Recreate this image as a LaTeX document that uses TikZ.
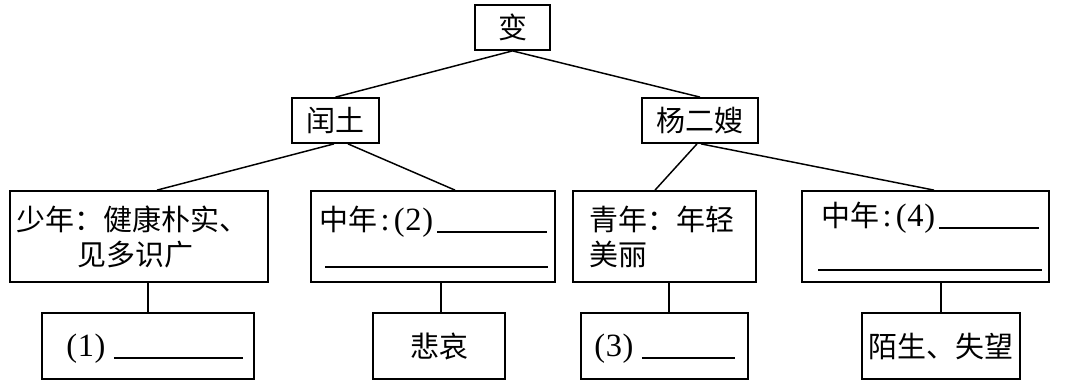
\documentclass[tikz,border=0pt]{standalone}
\usepackage{fontspec}
\setmainfont{Noto Sans CJK SC}
\newfontfamily\lat[Scale=1.12]{Liberation Serif}
\usetikzlibrary{calc}
\newcommand\blank[1]{\rule[-2pt]{#1}{1pt}}
\newcommand\hao[1]{{\lat(\kern0.5pt#1\kern0.5pt)}}
\newcommand\due{\kern2.5pt{\lat:}\kern3pt}

\begin{document}
\begin{tikzpicture}[
    x=0.025cm, y=-0.025cm,
    font=\fontsize{20.6}{24}\selectfont,
    kasten/.style={draw,line width=1.25pt,inner sep=0pt,minimum height=1.125cm},
    riquadro/.style={kasten,minimum height=2.275cm},
    riga/.style={anchor=base west,inner sep=0pt},
    ramo/.style={line width=1.05pt}]

  \useasboundingbox (0,0) rectangle (1070,384);

  % ---- radice e i due personaggi -------------------------------------------
  \node[kasten,minimum width=1.875cm] (bian)  at (512.5,27.5) {变};
  \node[kasten,minimum width=2.175cm] (runtu) at (335.5,120.5) {闰土};
  \node[kasten,minimum width=2.9cm]   (yang)  at (700,120.5)   {杨二嫂};

  % ---- terzo livello: le quattro fasi --------------------------------------
  \node[riquadro,minimum width=6.45cm]  (shao)   at (139,236.5)   {};
  \node[riquadro,minimum width=6.1cm]   (zhongR) at (433,236.5)   {};
  \node[riquadro,minimum width=4.575cm] (qing)   at (664.5,236.5) {};
  \node[riquadro,minimum width=6.175cm] (zhongY) at (925.5,236.5) {};

  \node[riga] (shaoA) at (16,230) {少年：健康朴实、};
  \node[riga] (shaoB) at (77,265) {见多识广};
  \node[riga] (zhongRA) at (319,230) {中年\due\hao{2}\kern3pt\blank{2.75cm}};
  \node[riga] (zhongRB) at (325,265) {\blank{5.575cm}};
  \node[riga] (qingA) at (589,230) {青年：年轻};
  \node[riga] (qingB) at (589,265) {美丽};
  \node[riga] (zhongYA) at (821,226) {中年\due\hao{4}\kern3pt\blank{2.5cm}};
  \node[riga] (zhongYB) at (818,268) {\blank{5.6cm}};

  % ---- quarto livello ------------------------------------------------------
  \node[kasten,minimum width=5.3cm,minimum height=1.65cm]   (kong1)   at (148,346)   {};
  \node[kasten,minimum width=3.3cm,minimum height=1.65cm]   (beiai)   at (439,346)   {悲哀};
  \node[kasten,minimum width=4.175cm,minimum height=1.65cm] (kong3)   at (664.5,346) {};
  \node[kasten,minimum width=3.95cm,minimum height=1.65cm]  (mosheng) at (941,346)   {陌生、失望};

  \node[riga] (kong1A) at (66,356)  {\hao{1}\kern6pt\blank{3.225cm}};
  \node[riga] (kong3A) at (594,356) {\hao{3}\kern6pt\blank{2.325cm}};

  % ---- rami ----------------------------------------------------------------
  \draw[ramo] (bian.south) -- (runtu.north);
  \draw[ramo] (bian.south) -- (yang.north);
  \draw[ramo] ($(runtu.south)+(-1.5,0)$) -- ($(shao.north)+(18,0)$);
  \draw[ramo] ($(runtu.south)+(12.5,0)$) -- ($(zhongR.north)+(22,0)$);
  \draw[ramo] ($(yang.south)+(-3,0)$)    -- ($(qing.north)+(-9.5,0)$);
  \draw[ramo] ($(yang.south)+(1,0)$)     -- ($(zhongY.north)+(8.5,0)$);
  \foreach \su/\giu/\dx in {shao/kong1/0,zhongR/beiai/2,qing/kong3/4.5,zhongY/mosheng/0}
    \draw[ramo] ($(\giu.north)+(\dx,0)$) -- ($(\giu.north |- \su.south)+(\dx,0)$);

\end{tikzpicture}
\end{document}
